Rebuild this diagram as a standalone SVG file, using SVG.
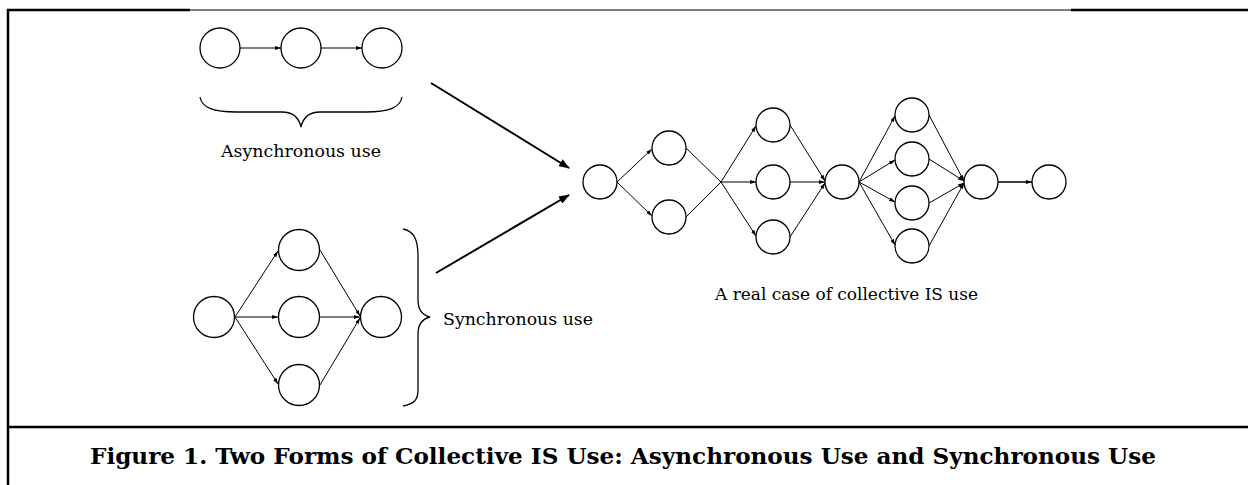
<svg xmlns="http://www.w3.org/2000/svg" width="1248" height="485" viewBox="0 0 1248 485">
<style>
  .n { fill: #fff; stroke: #000; stroke-width: 1.3; }
  .e { fill: none; stroke: #000; stroke-width: 1; marker-end: url(#sa); }
  .big { fill: none; stroke: #000; stroke-width: 2; marker-end: url(#la); }
  .brace { fill: none; stroke: #000; stroke-width: 1.3; }
  .lbl { font-family: "DejaVu Serif", "Liberation Serif", serif; font-size: 17px; fill: #000; }
  .cap { font-family: "DejaVu Serif", "Liberation Serif", serif; font-size: 23px; font-weight: bold; fill: #000; }
  .frame { stroke: #000; fill: none; }
</style>
<defs>
  <marker id="sa" markerUnits="userSpaceOnUse" viewBox="0 0 6 4" refX="6" refY="2" markerWidth="6" markerHeight="4" orient="auto">
    <path d="M0,0 L6,2 L0,4 z" fill="#000"/>
  </marker>
  <marker id="la" markerUnits="userSpaceOnUse" viewBox="0 0 11 8" refX="10" refY="4" markerWidth="11" markerHeight="8" orient="auto">
    <path d="M0,0 L11,4 L0,8 z" fill="#000"/>
  </marker>
</defs>
<rect x="0" y="0" width="1248" height="485" fill="#fff"/>

<g id="frame">
  <line class="frame" x1="7" y1="10" x2="190" y2="10" stroke-width="2.5"/>
  <line class="frame" x1="190" y1="10" x2="1071" y2="10" stroke-width="1"/>
  <line class="frame" x1="1071" y1="10" x2="1248" y2="10" stroke-width="2.5"/>
  <line class="frame" x1="8" y1="9" x2="8" y2="485" stroke-width="2.5"/>
  <line class="frame" x1="8" y1="427" x2="1248" y2="427" stroke-width="2.5"/>
</g>

<g id="connectors">
  <line class="e" x1="240" y1="48" x2="281" y2="48"/>
  <line class="e" x1="321" y1="48" x2="362" y2="48"/>
  <line class="e" x1="235" y1="317" x2="278" y2="251"/>
  <line class="e" x1="235" y1="317" x2="278" y2="317"/>
  <line class="e" x1="235" y1="317" x2="278" y2="384"/>
  <line class="e" x1="320" y1="250" x2="360" y2="316"/>
  <line class="e" x1="320" y1="317" x2="360" y2="317"/>
  <line class="e" x1="320" y1="385" x2="360" y2="318"/>
  <line class="big" x1="431" y1="83" x2="569" y2="168"/>
  <line class="big" x1="436" y1="273" x2="569" y2="195"/>
  <line class="e" x1="617" y1="182" x2="652" y2="149"/>
  <line class="e" x1="617" y1="182" x2="652" y2="216"/>
  <line class="e" x1="686" y1="148" x2="721" y2="182" style="marker-end:none"/>
  <line class="e" x1="686" y1="217" x2="721" y2="182" style="marker-end:none"/>
  <line class="e" x1="721" y1="182" x2="756" y2="126"/>
  <line class="e" x1="721" y1="182" x2="756" y2="182"/>
  <line class="e" x1="721" y1="182" x2="756" y2="236"/>
  <line class="e" x1="790" y1="125" x2="825" y2="181"/>
  <line class="e" x1="790" y1="182" x2="825" y2="182"/>
  <line class="e" x1="790" y1="237" x2="825" y2="183"/>
  <line class="e" x1="859" y1="182" x2="895" y2="116"/>
  <line class="e" x1="859" y1="182" x2="895" y2="160"/>
  <line class="e" x1="859" y1="182" x2="895" y2="202"/>
  <line class="e" x1="859" y1="182" x2="895" y2="245"/>
  <line class="e" x1="929" y1="115" x2="964" y2="181"/>
  <line class="e" x1="929" y1="159" x2="964" y2="181"/>
  <line class="e" x1="929" y1="203" x2="964" y2="183"/>
  <line class="e" x1="929" y1="246" x2="964" y2="183"/>
  <line class="e" x1="998" y1="182" x2="1032" y2="182" style="stroke-width:1.5"/>
</g>

<g id="async-nodes">
  <circle id="a1" class="n" cx="220" cy="48" r="20"/>
  <circle id="a2" class="n" cx="301" cy="48" r="20"/>
  <circle id="a3" class="n" cx="382" cy="48" r="20"/>
</g>
<g id="async-brace">
  <path class="brace" d="M200,97 C202,108 214,112 236,112 L282,112 C294,112 299,118 301,127 C303,118 308,112 320,112 L366,112 C388,112 400,108 402,97"/>
  <text class="lbl" x="301" y="157" text-anchor="middle" textLength="160" lengthAdjust="spacingAndGlyphs">Asynchronous use</text>
</g>

<g id="sync-nodes">
  <circle id="s1" class="n" cx="214" cy="317" r="20.5"/>
  <circle id="s2" class="n" cx="299" cy="250" r="20.5"/>
  <circle id="s3" class="n" cx="299" cy="317" r="20.5"/>
  <circle id="s4" class="n" cx="299" cy="385" r="20.5"/>
  <circle id="s5" class="n" cx="381" cy="317" r="20.5"/>
</g>
<g id="sync-brace">
  <path class="brace" d="M403,229 C414,231 418,240 418,256 L418,300 C418,310 422,315 430,317 C422,319 418,324 418,334 L418,390 C418,400 414,404 403,406"/>
  <text class="lbl" x="443" y="325" textLength="150" lengthAdjust="spacingAndGlyphs">Synchronous use</text>
</g>

<g id="real-nodes">
  <circle id="r1" class="n" cx="600" cy="182" r="17"/>
  <circle id="r2a" class="n" cx="669" cy="148" r="17"/>
  <circle id="r2b" class="n" cx="669" cy="217" r="17"/>
  <circle id="r3a" class="n" cx="773" cy="125" r="17"/>
  <circle id="r3b" class="n" cx="773" cy="182" r="17"/>
  <circle id="r3c" class="n" cx="773" cy="237" r="17"/>
  <circle id="r4" class="n" cx="842" cy="182" r="17"/>
  <circle id="r5a" class="n" cx="912" cy="115" r="17"/>
  <circle id="r5b" class="n" cx="912" cy="159" r="17"/>
  <circle id="r5c" class="n" cx="912" cy="203" r="17"/>
  <circle id="r5d" class="n" cx="912" cy="246" r="17"/>
  <circle id="r6" class="n" cx="981" cy="182" r="17"/>
  <circle id="r7" class="n" cx="1049" cy="182" r="17"/>
  <text class="lbl" x="715" y="300" textLength="263" lengthAdjust="spacingAndGlyphs">A real case of collective IS use</text>
</g>

<g id="caption">
  <text class="cap" x="623" y="464" text-anchor="middle" textLength="1066" lengthAdjust="spacingAndGlyphs">Figure 1. Two Forms of Collective IS Use: Asynchronous Use and Synchronous Use</text>
</g>
</svg>
